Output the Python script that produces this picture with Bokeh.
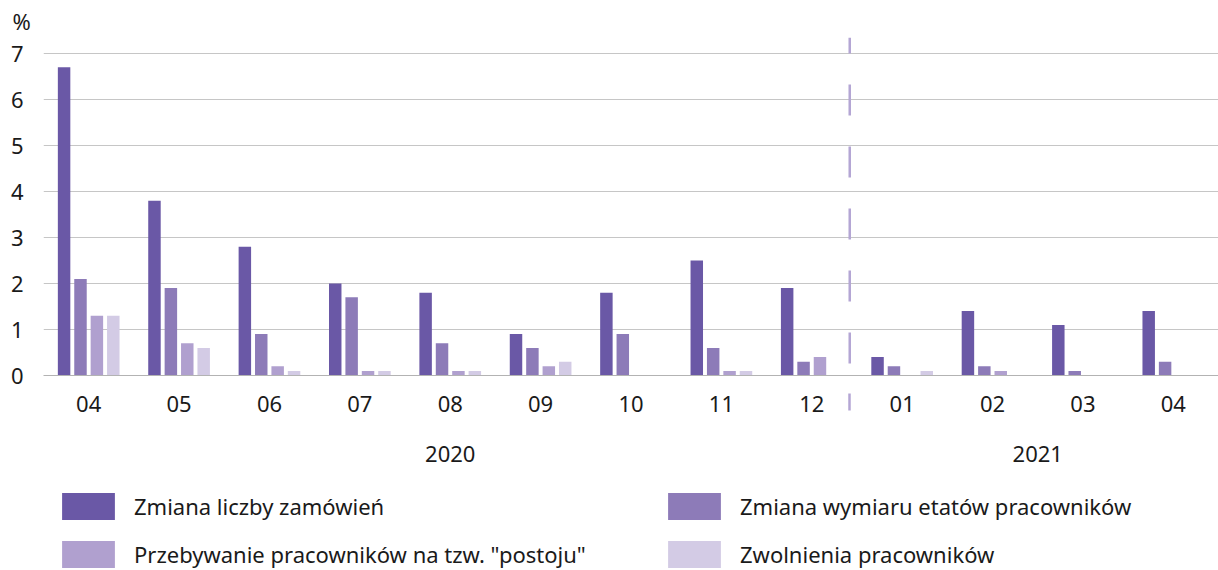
from bokeh.plotting import figure
from bokeh.layouts import column
from bokeh.models import (Range1d, FixedTicker, LinearAxis, Legend, LegendItem,
                          Title, Arrow)
from bokeh.embed import file_html
from bokeh.resources import INLINE

# ---------------- data ----------------
months = ["04", "05", "06", "07", "08", "09", "10", "11", "12", "01", "02", "03", "04"]
years = ["2020", "2021"]
months_per_year = [9, 4]

series_names = [
    "Zmiana liczby zamówień",
    "Zmiana wymiaru etatów pracowników",
    "Przebywanie pracowników na tzw. \"postoju\"",
    "Zwolnienia pracowników",
]
zamowienia = [6.7, 3.8, 2.8, 2.0, 1.8, 0.9, 1.8, 2.5, 1.9, 0.4, 1.4, 1.1, 1.4]
wymiar_etatow = [2.1, 1.9, 0.9, 1.7, 0.7, 0.6, 0.9, 0.6, 0.3, 0.2, 0.2, 0.1, 0.3]
postoj = [1.3, 0.7, 0.2, 0.1, 0.1, 0.2, 0.0, 0.1, 0.4, 0.0, 0.1, 0.0, 0.0]
zwolnienia = [1.3, 0.6, 0.1, 0.1, 0.1, 0.3, 0.0, 0.1, 0.0, 0.1, 0.0, 0.0, 0.0]
y_ticks = [0, 1, 2, 3, 4, 5, 6, 7]
unit = "%"

# ---------------- style ----------------
FONT = "Noto Sans"
FS = "22px"
TEXT = "#1a1a1a"
colors = ["#6a58a6", "#8d7bb8", "#b0a0cf", "#d3cbe5"]
DIV_COLOR = "#b4a6d4"
BAR_W = 0.138
BAR_STEP = 0.1815
Y_TOP = 7.348      # frame reaches slightly above the top gridline

series = [zamowienia, wymiar_etatow, postoj, zwolnienia]
n = len(months)
centers = [i + 0.5 for i in range(n)]
divider_x = months_per_year[0] - 0.08

p = figure(width=1218, height=490, output_backend="svg", toolbar_location=None,
           x_range=Range1d(0, n), y_range=Range1d(0, Y_TOP),
           min_border_left=43, min_border_right=0, min_border_top=37,
           min_border_bottom=115, outline_line_color=None)

renderers = []
for k, vals in enumerate(series):
    off = (k - 1.5) * BAR_STEP
    r = p.vbar(x=[c + off for c in centers], top=vals, width=BAR_W,
               bottom=0, fill_color=colors[k], line_color=None)
    renderers.append(r)

# unit title
p.add_layout(Title(text=unit, align="left", offset=-31, standoff=4,
                   text_font=FONT, text_font_size=FS, text_font_style="normal",
                   text_color=TEXT), "above")

# grid
p.xgrid.grid_line_color = None
p.ygrid.ticker = FixedTicker(ticks=y_ticks)
p.ygrid.grid_line_color = "#c6c6c6"
p.ygrid.grid_line_width = 1

# y axis
ya = p.yaxis[0]
ya.ticker = FixedTicker(ticks=y_ticks)
ya.axis_line_color = None
ya.major_tick_line_color = None
ya.minor_tick_line_color = None
ya.major_tick_in = 0
ya.major_tick_out = 0
ya.major_label_standoff = 20
ya.major_label_text_font = FONT
ya.major_label_text_font_size = FS
ya.major_label_text_color = TEXT

# x axis (months); the minor tick continues the year divider below the axis
xa = p.xaxis[0]
xa.ticker = FixedTicker(ticks=centers, minor_ticks=[divider_x])
xa.major_label_overrides = {c: m for c, m in zip(centers, months)}
xa.axis_line_color = "#b3b3b3"
xa.axis_line_width = 1
xa.major_tick_line_color = None
xa.major_tick_in = 0
xa.major_tick_out = 0
xa.minor_tick_line_color = DIV_COLOR
xa.minor_tick_line_width = 2.5
xa.minor_tick_in = -18
xa.minor_tick_out = 35
xa.major_label_standoff = -15
xa.major_label_text_font = FONT
xa.major_label_text_font_size = FS
xa.major_label_text_color = TEXT

# year axis
year_centers = []
start = 0
for cnt in months_per_year:
    year_centers.append(start + cnt / 2)
    start += cnt
yax = LinearAxis(ticker=FixedTicker(ticks=year_centers),
                 major_label_overrides={c: y for c, y in zip(year_centers, years)})
yax.axis_line_color = None
yax.major_tick_line_color = None
yax.minor_tick_line_color = None
yax.major_tick_in = 0
yax.major_tick_out = 0
yax.major_label_standoff = 31
yax.major_label_text_font = FONT
yax.major_label_text_font_size = FS
yax.major_label_text_color = TEXT
p.add_layout(yax, "below")

# divider between years (dashed)
p.add_layout(Arrow(end=None, x_start=divider_x, y_start=Y_TOP,
                   x_end=divider_x, y_end=0,
                   line_color=DIV_COLOR, line_width=2.5,
                   line_dash="31 31", line_dash_offset=15))

# ---------------- legend strip ----------------
pl = figure(width=1218, height=80, output_backend="svg", toolbar_location=None,
            x_range=Range1d(0, 1), y_range=Range1d(0, 1),
            x_axis_location=None, y_axis_location=None,
            min_border=0, outline_line_color=None)
pl.grid.visible = False
# zero-size swatch renderers that only feed the legend
leg_r = [pl.vbar(x=[0.5], top=[0], bottom=0, width=0, fill_color=c, line_color=None)
         for c in colors]


def make_legend(idx, loc):
    return Legend(items=[LegendItem(label=series_names[i], renderers=[leg_r[i]]) for i in idx],
                  location=loc, orientation="vertical",
                  glyph_width=66, glyph_height=34, label_standoff=13,
                  spacing=14, padding=0, margin=0,
                  label_text_font=FONT, label_text_font_size=FS,
                  label_text_color=TEXT, label_height=34,
                  border_line_color=None, background_fill_alpha=0)


pl.add_layout(make_legend([0, 2], (12, -1)))
pl.add_layout(make_legend([1, 3], (618, -1)))

layout = column(p, pl, spacing=0)
open("out.html", "w").write(file_html(layout, INLINE))
